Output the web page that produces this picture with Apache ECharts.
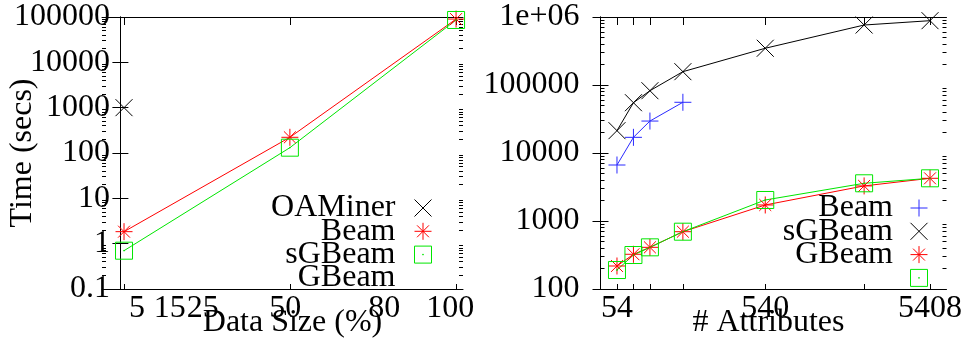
<!DOCTYPE html>
<html>
<head>
<meta charset="utf-8">
<title>Time vs data size and attributes</title>
<script src="https://cdn.jsdelivr.net/npm/echarts@6/dist/echarts.min.js"></script>
<style>
  html, body { margin: 0; padding: 0; background: #fff; }
  #chart { width: 979px; height: 343px; }
</style>
</head>
<body>
<div id="chart"></div>
<script>
// left panel: time vs data size (%)
const sizeX = [1.1, 51.4, 101.8];
const sizeLabels = [5, 15, 25, 50, 80, 100];
const oaminerSize = [1000];
const beamSize = [1.84, 222, 90000];
const sgbeamSize = [0.7, 131, 86000];
const timeLabelsLeft = [0.1, 1, 10, 100, 1000, 10000, 100000];

// right panel: time vs # attributes
const attrX = [54, 108, 162, 270, 540, 864, 1080];
const attrTicks = [54, 540, 1080];
const attrTickText = ['54', '540', '5408'];
const beamAttr = [6660, 17000, 29500, 55700];
const sgbeamAttr = [21300, 54900, 82400, 157000, 347000, 762000, 883000];
const gbeamAttr = [218, 324, 410, 696, 1720, 3280, 4245];
const boxAttr = [190, 316, 410, 696, 2037, 3585, 4245];
const timeLabelsRight = [100, 1000, 10000, 100000, 1000000];

const FONT = 'Liberation Serif';
const CROSS = 'path://M0 0L10 10M0 10L10 0';
const PLUS = 'path://M5 0L5 10M0 5L10 5';
const STAR = 'path://M5 0L5 10M0 5L10 5M1.5 1.5L8.5 8.5M1.5 8.5L8.5 1.5';
const BOX = 'path://M0 0L10 0L10 10L0 10ZM4.8 4.8L5.2 4.8L5.2 5.2L4.8 5.2Z';
const RED = '#ff0000', GREEN = '#00e600', BLUE = '#2a2aff', BLACK = '#000000';

function pts(xs, ys) {
  return ys.map((y, i) => [xs[i], y]);
}

// log minor tick positions (2..9 in each decade)
function minorTicks(lo, hi) {
  const out = [];
  for (let d = lo; d < hi; d *= 10) {
    for (let m = 2; m <= 9; m++) out.push(+(m * d).toPrecision(3));
  }
  return out;
}

function line(name, color, symbol, data, xi, yi) {
  return {
    type: 'line', name: name, data: data,
    xAxisIndex: xi, yAxisIndex: yi,
    symbol: symbol, symbolSize: 17,
    lineStyle: { color: color, width: 1 },
    itemStyle: { color: 'none', borderColor: color, borderWidth: 1 },
    emphasis: { disabled: true },
    silent: true
  };
}

function legendItem(name, icon, color) {
  return { name: name, icon: icon, itemStyle: { color: 'none', borderColor: color, borderWidth: 1 } };
}

const labelFont = { fontFamily: FONT, fontSize: 32, color: '#000' };
const axisLine = { show: true, lineStyle: { color: '#000', width: 1 } };

function fmtTime(v) {
  return v >= 1e6 ? '1e+06' : String(+Number(v).toPrecision(6));
}

function xPair(grid, min, max, ticks, labels, fmt, name, namePad) {
  return [{
    type: 'value', gridIndex: grid, position: 'bottom', min: min, max: max,
    axisLine: axisLine, splitLine: { show: false },
    axisTick: { customValues: ticks, inside: true, length: 5, lineStyle: { color: '#000' } },
    axisLabel: Object.assign({ customValues: labels, margin: 4, formatter: fmt }, labelFont),
    name: name, nameLocation: 'middle', nameGap: 18, nameMoveOverlap: false,
    nameTextStyle: Object.assign({ padding: namePad }, labelFont)
  }, {
    type: 'value', gridIndex: grid, position: 'top', min: min, max: max,
    axisLine: axisLine, splitLine: { show: false },
    axisTick: { customValues: ticks, inside: true, length: 8, lineStyle: { color: '#000' } },
    axisLabel: { show: false }
  }];
}

function yAxes(grid, min, max, labels, margin, name) {
  const minor = minorTicks(min, max);
  const base = { type: 'log', logBase: 10, gridIndex: grid, min: min, max: max, splitLine: { show: false } };
  return [
    Object.assign({}, base, {
      position: 'left', axisLine: axisLine,
      axisTick: { customValues: labels, inside: true, length: 8, lineStyle: { color: '#000' } },
      axisLabel: Object.assign({ customValues: labels, margin: margin, formatter: fmtTime }, labelFont),
      name: name, nameLocation: 'middle', nameGap: 63, nameMoveOverlap: false, nameTextStyle: labelFont
    }),
    Object.assign({}, base, {
      position: 'right', axisLine: axisLine,
      axisTick: { customValues: labels, inside: true, length: 8, lineStyle: { color: '#000' } },
      axisLabel: { show: false }
    }),
    Object.assign({}, base, {
      position: 'left', axisLine: { show: false },
      axisTick: { customValues: minor, inside: true, length: 4, lineStyle: { color: '#000' } },
      axisLabel: { show: false }
    }),
    Object.assign({}, base, {
      position: 'right', axisLine: { show: false },
      axisTick: { customValues: minor, inside: true, length: 4, lineStyle: { color: '#000' } },
      axisLabel: { show: false }
    })
  ];
}

const legendBase = {
  orient: 'vertical', align: 'right', top: 192, itemHeight: 17, itemGap: -8.7, padding: 0,
  selectedMode: false,
  textStyle: { fontFamily: FONT, fontSize: 32, color: '#000' }
};

const chart = echarts.init(document.getElementById('chart'), null, { renderer: 'canvas' });

chart.setOption({
  animation: false,
  backgroundColor: '#fff',
  grid: [
    { left: 102, top: 17, width: 361, height: 272, outerBoundsMode: 'none' },
    { left: 600.5, top: 17, width: 346, height: 272, outerBoundsMode: 'none' }
  ],
  xAxis: [].concat(
    xPair(0, -5.58, 103.9, sizeX, sizeLabels, v => String(v), 'Data Size (%)', [0, 0, 0, 20]),
    xPair(1, 0, 1134, attrX, attrTicks, v => attrTickText[attrTicks.indexOf(v)], '# Attributes', [0, 10, 0, 0])
  ),
  yAxis: [].concat(
    yAxes(0, 0.1, 100000, timeLabelsLeft, -8, 'Time (secs)'),
    yAxes(1, 100, 1000000, timeLabelsRight, 21, '')
  ),
  legend: [
    Object.assign({}, legendBase, {
      right: 531, itemWidth: 45,
      data: [
        legendItem('OAMiner', CROSS, BLACK),
        legendItem('Beam', STAR, RED),
        legendItem('sGBeam', BOX, GREEN),
        { name: 'GBeam', icon: 'rect', itemStyle: { opacity: 0 } }
      ]
    }),
    Object.assign({}, legendBase, {
      right: 49, itemWidth: 42,
      data: [
        legendItem('Beam', PLUS, BLUE),
        legendItem('sGBeam', CROSS, BLACK),
        legendItem('GBeam', STAR, RED),
        legendItem(' ', BOX, GREEN)
      ]
    })
  ],
  series: [
    line('OAMiner', BLACK, CROSS, pts(sizeX, oaminerSize), 0, 0),
    line('Beam', RED, STAR, pts(sizeX, beamSize), 0, 0),
    line('sGBeam', GREEN, BOX, pts(sizeX, sgbeamSize), 0, 0),
    line('GBeam', BLACK, 'none', [], 0, 0),
    line('Beam', BLUE, PLUS, pts(attrX, beamAttr), 2, 4),
    line('sGBeam', BLACK, CROSS, pts(attrX, sgbeamAttr), 2, 4),
    line('GBeam', RED, STAR, pts(attrX, gbeamAttr), 2, 4),
    line(' ', GREEN, BOX, pts(attrX, boxAttr), 2, 4)
  ]
});
</script>
</body>
</html>
